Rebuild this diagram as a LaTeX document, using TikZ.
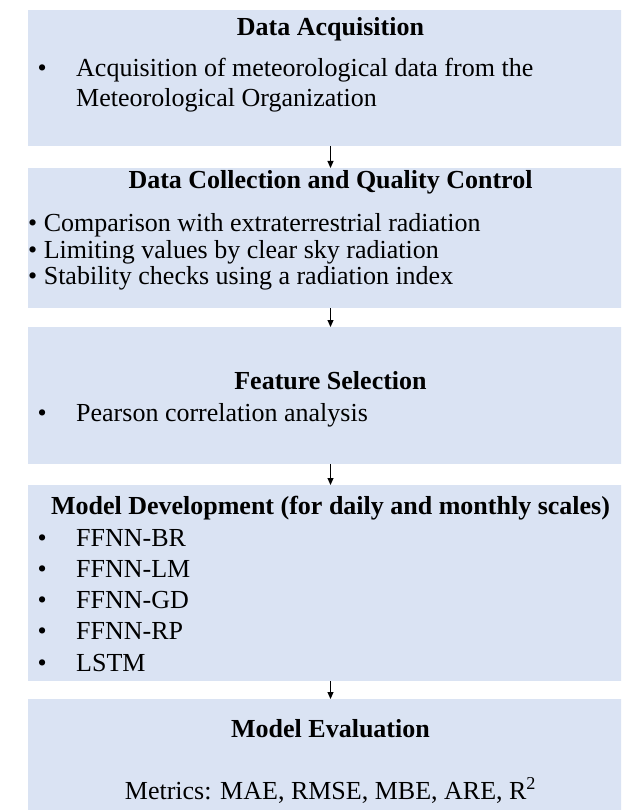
\documentclass[tikz,border=0pt]{standalone}
\usepackage{fontspec}
\setmainfont{Liberation Serif}
\usetikzlibrary{arrows.meta}
\definecolor{boxfill}{HTML}{DAE3F3}
\begin{document}
\begin{tikzpicture}[x=1pt,y=-1pt,
  stage/.style={fill=boxfill, draw=none, minimum width=605pt, inner sep=0pt, outer sep=0pt},
  head/.style={font=\fontsize{26}{30}\selectfont\bfseries, inner sep=0pt, anchor=base},
  item/.style={font=\fontsize{26}{30}\selectfont, inner sep=0pt, anchor=base west},
  plain/.style={font=\fontsize{26}{30}\selectfont, inner sep=0pt, anchor=base},
  flow/.style={-{Triangle[width=6pt,length=7pt]}, line width=0.9pt}]
\useasboundingbox (0,0) rectangle (621,810);
\clip (0,0) rectangle (621,810);

% stage boxes
\node[stage, minimum height=136pt] (acq)  at (330.5,78)    {};
\node[stage, minimum height=140pt] (qc)   at (330.5,238)   {};
\node[stage, minimum height=137pt] (feat) at (330.5,395.5) {};
\node[stage, minimum height=196pt] (dev)  at (330.5,583)   {};
\node[stage, minimum height=111pt] (eval) at (330.5,754.5) {};

% data acquisition
\node[head] (acqT) at (330.5,36) {Data Acquisition};
\node[item] (acqB) at (37.5,77) {•};
\node[item] (acqL1) at (76,77) {Acquisition of meteorological data from the};
\node[item] (acqL2) at (76,107) {Meteorological Organization};

% quality control
\node[head] (qcT) at (330.5,189) {Data Collection and Quality Control};
\node[item] (qcL1) at (28,232) {• Comparison with extraterrestrial radiation};
\node[item] (qcL2) at (28,258) {• Limiting values by clear sky radiation};
\node[item] (qcL3) at (28,284) {• Stability checks using a radiation index};

% feature selection
\node[head] (featT) at (330.5,389) {Feature Selection};
\node[item] (featB) at (37.5,421) {•};
\node[item] (featL) at (76,421) {Pearson correlation analysis};

% model development
\node[head] (devT) at (330.5,514) {Model Development (for daily and monthly scales)};
\foreach \y/\m [count=\i] in {546/FFNN-BR,577/FFNN-LM,608/FFNN-GD,639/FFNN-RP,671/LSTM}{
  \node[item] (devB\i) at (37.5,\y) {•};
  \node[item] (devL\i) at (76,\y) {\m};
}

% model evaluation
\node[head] (evalT) at (330.5,737) {Model Evaluation};
\node[plain] (evalM) at (330.5,799) {Metrics: MAE, RMSE, MBE, ARE, R\textsuperscript{2}};

% connectors
\draw[flow] (acq.south) -- (qc.north);
\draw[flow] (qc.south) -- (feat.north);
\draw[flow] (feat.south) -- (dev.north);
\draw[flow] (dev.south) -- (eval.north);
\end{tikzpicture}
\end{document}
